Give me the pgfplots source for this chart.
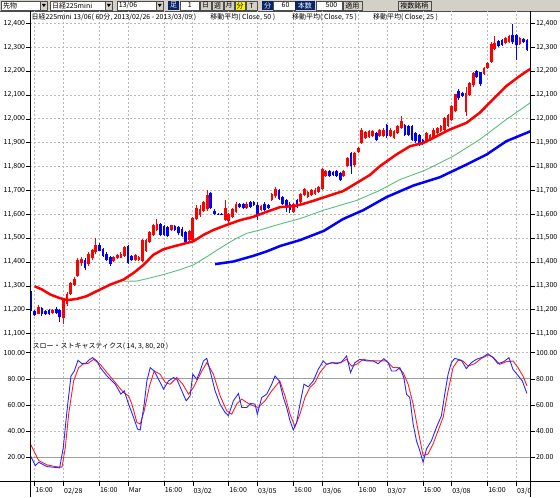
\documentclass[border=0pt]{standalone}
\usepackage{fontspec}
\setmainfont{Noto Sans CJK JP}
\usepackage{pgfplots}
\usepackage{pgfplotstable}
\pgfplotsset{compat=1.18}
\definecolor{tbgray}{RGB}{212,208,200}
\definecolor{navyb}{RGB}{10,36,106}
\definecolor{upred}{RGB}{255,0,0}
\definecolor{dnblue}{RGB}{0,0,255}
\definecolor{magreen}{RGB}{90,190,130}
\definecolor{gridgray}{RGB}{185,185,185}
\definecolor{kblue}{RGB}{40,40,255}
\definecolor{dred}{RGB}{255,30,30}
\newcommand{\lf}{\fontsize{7bp}{8bp}\selectfont}

\pgfplotstableread{
i o h l c
1 11183 11218 11180 11212
5 11186 11204 11183 11200
8 11165 11250 11140 11240
9 11225 11275 11215 11265
10 11265 11315 11260 11310
11 11305 11338 11300 11330
12 11340 11415 11335 11410
13 11395 11420 11385 11412
15 11390 11440 11385 11435
16 11415 11455 11410 11450
17 11440 11500 11435 11470
22 11405 11424 11400 11420
23 11415 11432 11412 11428
24 11418 11440 11415 11435
25 11425 11468 11420 11462
28 11410 11432 11405 11428
29 11410 11425 11405 11420
30 11405 11495 11400 11490
31 11445 11495 11440 11490
32 11485 11530 11480 11525
33 11515 11560 11510 11555
34 11535 11582 11530 11560
38 11535 11556 11530 11553
43 11492 11535 11488 11530
44 11490 11590 11478 11585
45 11580 11640 11575 11625
46 11595 11640 11590 11620
47 11612 11655 11608 11650
48 11620 11700 11615 11680
53 11575 11660 11570 11625
54 11570 11605 11565 11600
55 11590 11628 11585 11624
56 11610 11650 11605 11645
59 11625 11650 11620 11645
63 11617 11638 11612 11633
66 11660 11690 11655 11686
67 11675 11715 11670 11705
72 11610 11648 11605 11644
74 11652 11690 11645 11686
75 11680 11712 11675 11707
76 11672 11698 11668 11693
77 11680 11705 11675 11700
78 11686 11708 11682 11703
79 11693 11720 11690 11714
80 11705 11795 11700 11790
81 11760 11785 11755 11780
86 11759 11785 11755 11780
87 11801 11840 11796 11836
89 11805 11862 11800 11857
90 11860 11882 11855 11878
91 11900 11960 11895 11955
92 11920 11950 11915 11945
93 11925 11952 11920 11948
94 11930 11952 11925 11948
96 11930 11958 11925 11955
97 11928 11960 11925 11955
99 11928 11960 11924 11955
100 11920 11952 11915 11948
101 11941 11973 11937 11969
102 11962 12012 11958 11990
109 11906 11945 11900 11941
110 11913 11938 11908 11934
111 11920 11960 11915 11955
112 11941 11966 11936 11962
113 11948 11973 11944 11969
114 11955 12008 11950 12004
115 11969 12022 11964 12018
116 11997 12058 11992 12053
117 12032 12106 12028 12102
120 12030 12135 12010 12110
121 12100 12155 12095 12150
122 12140 12195 12135 12190
125 12186 12218 12182 12214
126 12214 12238 12210 12235
127 12238 12320 12232 12315
128 12292 12345 12288 12318
131 12318 12342 12314 12338
132 12320 12350 12316 12345
135 12312 12342 12308 12338
}\upcandles

\pgfplotstableread{
i o h l c
-1 11271 11280 11195 11201
0 11194 11200 11172 11178
2 11206 11210 11175 11180
3 11196 11200 11178 11183
4 11198 11202 11178 11180
6 11203 11210 11183 11186
7 11198 11205 11148 11170
14 11410 11415 11365 11375
18 11470 11478 11445 11448
19 11455 11460 11420 11425
20 11435 11440 11405 11410
21 11422 11425 11385 11392
26 11465 11470 11390 11395
27 11425 11430 11405 11410
35 11560 11565 11510 11515
36 11550 11555 11510 11515
37 11545 11550 11503 11508
39 11550 11555 11530 11535
40 11548 11552 11515 11520
41 11540 11545 11503 11508
42 11525 11530 11478 11485
49 11688 11692 11620 11625
50 11615 11620 11598 11602
51 11603 11605 11598 11600
52 11602 11605 11596 11599
57 11645 11648 11628 11631
58 11645 11648 11620 11625
60 11652 11656 11628 11631
61 11650 11655 11635 11638
62 11640 11650 11575 11598
64 11644 11650 11612 11617
65 11640 11644 11620 11625
68 11700 11705 11660 11665
69 11672 11678 11640 11645
70 11658 11662 11610 11625
71 11644 11650 11605 11617
73 11658 11662 11625 11630
82 11780 11785 11755 11760
83 11778 11782 11762 11766
84 11780 11784 11755 11759
85 11773 11778 11740 11745
88 11857 11862 11770 11801
95 11941 11945 11908 11913
98 11976 11980 11920 11927
103 11976 11980 11930 11934
104 11969 11974 11930 11934
105 11969 11975 11905 11913
106 11941 11945 11900 11906
107 11934 11938 11885 11892
108 11913 11917 11890 11899
118 12116 12125 12080 12088
119 12109 12112 12092 12095
123 12200 12205 12170 12175
124 12195 12198 12138 12145
129 12325 12330 12300 12305
130 12330 12334 12306 12310
133 12350 12398 12315 12320
134 12350 12355 12245 12310
136 12333 12337 12316 12320
137 12330 12334 12285 12290
}\downcandles

\pgfplotstableread{
i v
0 11298
2 11285
4.3 11264
6.7 11250
9 11240
11.7 11245
14.5 11257
17.3 11278
21 11305
24.7 11326
27.5 11354
30.3 11388
33 11430
35.8 11453
38.6 11465
41.4 11476
44.2 11487
46.9 11513
49.7 11534
53.4 11555
57.1 11575
60.8 11589
64.5 11610
68.3 11630
72 11634
73.9 11640
77.5 11656
82.1 11679
85.8 11697
90 11735
93.3 11765
96 11801
100.6 11850
104.4 11885
108.1 11899
111.8 11927
115.5 11955
120.1 11983
123.8 12025
127.5 12081
131.2 12137
134.9 12179
137.97 12210
}\maA

\pgfplotstableread{
i v
24.9 11319
28.4 11320
32.1 11333
35.8 11347
40.5 11368
44.2 11388
48 11423
51.6 11458
55.3 11492
59 11520
62.7 11534
67.3 11555
73.9 11582
80.4 11617
89.6 11658
96 11700
101.6 11745
107.1 11776
109 11787
116.4 11843
123.8 11913
131.2 11997
137.97 12068
}\maB

\pgfplotstableread{
i v
50.2 11391
55.3 11402
60.9 11426
64.5 11444
68.3 11467
73.9 11492
80.4 11530
85.8 11580
91.4 11617
97.9 11672
105.3 11720
112.7 11755
120.1 11808
125.7 11850
131.2 11906
137.97 11948
}\maC

\pgfplotstableread{
i v
-1.19 21.3
0.19 13.7
1.12 16.2
3.44 12.9
5.29 12.4
6.95 11.9
7.97 27.7
8.99 55.6
10.1 82.2
11.03 86
12.05 94.2
13.16 91.6
14.08 91.6
15.01 94.2
16.12 96.2
17.32 93.7
18.25 88.6
20.1 82.2
22.42 75.9
23.99 68.3
24.92 70.8
26.12 60.7
27.51 50.5
28.62 41.6
29.36 40.9
30.47 60.7
31.21 78.4
32.14 88.6
33.25 86
34.45 79.7
35.84 72.1
37.23 78.4
38.62 81
39.55 79.7
40.94 70.8
42.14 63.2
43.25 67
43.99 83.5
45.1 79.7
46.03 86
46.95 93.7
47.88 95.7
48.81 86
50.19 70.8
51.58 60.7
52.97 54.3
53.9 51.8
55.29 63.2
56.68 68.8
57.6 58.1
58.99 58.1
60.1 61.2
61.31 60.7
61.95 53
63.16 65.7
64.55 68.3
65.94 75.9
66.86 82.2
68.06 78.4
69.18 65.7
70.1 58.1
71.03 48
71.95 40.9
72.88 46.7
73.99 63.2
74.92 75.9
76.12 73.9
77.51 78.4
78.9 87.3
80.29 93.7
81.21 91.1
82.6 92.4
83.99 91.6
85.38 92.9
86.77 97.5
87.88 84.8
89.08 92.4
90.47 94.9
92.32 93.7
94.18 93.7
95.56 91.6
97.14 95.4
98.34 92.4
99.27 86
100.47 86
101.58 88.6
102.7 81
103.44 68.3
104.36 65.7
105.29 45.4
106.21 32.7
107.14 25.1
108.06 16.2
108.99 26.4
110.38 32.7
111.77 42.9
113.16 51.8
114.08 68.3
115.01 83.5
115.93 92.4
116.86 95.7
118.71 94.2
120.1 87.8
121.49 92.4
122.88 94.9
124.73 96.7
126.12 99.2
127.51 96.2
128.9 91.6
130.47 93.1
131.95 96.2
133.06 87.3
134.17 83.5
135.66 78.4
136.95 68.8
}\stochK

\pgfplotstableread{
i v
-1.19 30.2
1.12 17.5
3.44 14.2
5.76 12.9
7.6 12.4
8.53 27.7
9.45 53
10.84 78.4
12.23 88.6
13.62 91.6
14.73 91.6
16.4 94.9
18.25 91.1
20.1 84.8
22.42 77.2
24.73 69.5
26.12 67
27.05 60.7
28.44 46.7
29.36 45.4
30.47 55.6
31.95 74.6
33.25 86
34.92 83.5
36.31 77.2
37.69 75.9
39.55 81
41.21 75.9
42.79 68.3
44.18 73.4
46.03 83.5
47.88 92.4
49.73 83.5
51.58 67
53.44 55.6
54.82 53
56.21 60.7
57.6 64.5
59.45 61.2
60.84 59.4
62.23 58.1
64.08 63.2
65.94 70.8
68.2 78.4
69.64 67
71.03 53
72.42 43.4
73.8 53
75.19 65.7
76.58 73.4
77.97 77.2
79.36 84.8
81.21 91.1
83.06 92.4
84.92 92.1
86.77 94.9
88.16 89.8
89.55 91.1
91.4 94.9
93.71 93.7
96.03 93.7
97.88 93.7
99.73 88.6
101.12 88.6
102.51 84.8
103.9 75.9
105.29 60.7
106.68 40.4
108.06 21.3
109.45 22.6
110.84 30.2
112.23 40.4
113.62 50.5
115.01 70.8
116.4 88.6
117.78 94.2
119.17 93.7
120.56 89.8
122.41 91.6
124.27 95.7
126.12 98.2
127.51 96.7
129.36 91.1
131.21 93.1
133.06 93.7
134.45 88.6
135.84 82.2
136.95 74.6
}\stochD

\newcommand{\field}[3]{%
  \draw[gray!60!black, fill=white, line width=0.5] (#1,488) rectangle (#2,497);
  \node[anchor=west, inner sep=0, font=\lf] at (#1+1.5,492.5) {#3};}
\newcommand{\ddarrow}[2]{%
  \draw[gray!60!black, fill=tbgray, line width=0.5] (#1,488) rectangle (#2,497);
  \fill[black] ({(#1+#2)/2-2},494) -- ({(#1+#2)/2+2},494) -- ({(#1+#2)/2},491) -- cycle;}
\newcommand{\navybox}[3]{%
  \fill[navyb] (#1,488) rectangle (#2,497);
  \node[white, font=\lf, inner sep=0] at ({(#1+#2)/2},492.5) {#3};}
\newcommand{\btn}[4]{%
  \draw[gray!60!black, fill=#4, line width=0.5] (#1,488) rectangle (#2,497);
  \node[font=\lf, inner sep=0] at ({(#1+#2)/2},492.5) {#3};}

\pgfplotsset{
  candlebase/.style={forget plot, draw=none, mark=none},
  chartgeom/.style={scale only axis, anchor=south west, width=501bp,
    xmin=-1.19, xmax=137.97, axis line style={draw=none},
    tick align=outside, major tick length=4bp,
    y tick style={black, line width=0.6bp},
    /pgf/number format/assume math mode=true,
    tick label style={font=\lf},
    yticklabel style={inner sep=1.2bp}},
}

\begin{document}
\begin{tikzpicture}
\begin{scope}[x=1bp,y=1bp]
\path[use as bounding box] (0,0) rectangle (560,498);
\fill[white] (0,0) rectangle (560,498);
\fill[tbgray] (0,487) rectangle (560,498);
\draw[gray!60!black, line width=0.5] (0,487) -- (560,487);
\field{1}{40}{先物}\ddarrow{40}{47}
\field{50}{105}{日経225mini}\ddarrow{105}{112}
\field{117}{156}{13/06}\ddarrow{156}{163}
\navybox{168}{179}{足}
\field{180}{199}{\hspace*{6bp}1}
\btn{200}{211}{日}{tbgray}
\btn{212}{223}{週}{tbgray}
\btn{224}{234}{月}{tbgray}
\btn{235}{245}{分}{yellow}
\btn{246}{257}{T}{tbgray}
\navybox{262}{273}{分}
\field{273}{295}{\hspace*{7bp}60}
\navybox{295}{315}{本数}
\field{316}{342}{\hspace*{8bp}500}
\btn{343}{362}{適用}{tbgray}
\btn{398}{431}{複数銘柄}{tbgray}
\end{scope}

% ---------- price panel ----------
\begin{axis}[chartgeom,
  at={(30bp,158bp)}, height=329bp,
  ymin=11075.3, ymax=12451.9,
  xtick={0,8,18,26,36,44,54,62,72,80,90,98,108,116,126,134},
  xticklabels={,,,,,,,,,,,,,,,}, x tick style={draw=none},
  ytick={11100,11200,...,12400}, ytick pos=left,
  grid=major, grid style={gridgray, line width=0.7bp, dash pattern=on 2bp off 2bp},
  scaled y ticks=false,
  yticklabel style={/pgf/number format/1000 sep={,}},
]
\addplot[candlebase, error bars/.cd, y dir=plus, y explicit, error mark=none,
  error bar style={draw=upred, solid, line width=0.9bp}]
  table[x=i, y=l, y error plus expr={\thisrow{h}-\thisrow{l}}] {\upcandles};
\addplot[candlebase, error bars/.cd, y dir=plus, y explicit, error mark=none,
  error bar style={draw=upred, solid, line width=2.7bp}]
  table[x=i, y=o, y error plus expr={\thisrow{c}-\thisrow{o}}] {\upcandles};
\addplot[candlebase, error bars/.cd, y dir=plus, y explicit, error mark=none,
  error bar style={draw=dnblue, solid, line width=0.9bp}]
  table[x=i, y=l, y error plus expr={\thisrow{h}-\thisrow{l}}] {\downcandles};
\addplot[candlebase, error bars/.cd, y dir=plus, y explicit, error mark=none,
  error bar style={draw=dnblue, solid, line width=2.7bp}]
  table[x=i, y=c, y error plus expr={\thisrow{o}-\thisrow{c}}] {\downcandles};
\addplot[magreen, line width=0.9bp] table[x=i, y=v] {\maB};
\addplot[dnblue, line width=2.5bp] table[x=i, y=v] {\maC};
\addplot[upred, line width=2.5bp] table[x=i, y=v] {\maA};
\end{axis}
\begin{axis}[chartgeom,
  at={(30bp,158bp)}, height=329bp,
  ymin=11075.3, ymax=12451.9,
  xtick=\empty,
  ytick={11100,11200,...,12400}, ytick pos=right, yticklabel pos=right,
  scaled y ticks=false,
  yticklabel style={/pgf/number format/1000 sep={,}},
]
\end{axis}

% ---------- stochastic panel ----------
\begin{axis}[chartgeom,
  at={(30bp,15.3bp)}, height=142.7bp,
  ymin=1.18, ymax=110.13,
  xtick={0,8,18,26,36,44,54,62,72,80,90,98,108,116,126,134},
  xticklabels={16:00,02/28,16:00,Mar,16:00,03/02,16:00,03/05,16:00,03/06,16:00,03/07,16:00,03/08,16:00,03/0},
  xtick pos=bottom, x tick style={black, line width=0.6bp}, xtick align=outside,
  xticklabel style={anchor=north west, inner sep=0.5bp, yshift=-1bp},
  ytick={40,60,100}, ytick pos=left,
  extra y ticks={20,80},
  extra y tick style={grid=major, major grid style={solid, color=gray!75, line width=0.8bp}},
  grid=major, grid style={gridgray, line width=0.7bp, dash pattern=on 2bp off 2bp},
  yticklabel style={/pgf/number format/fixed, /pgf/number format/fixed zerofill, /pgf/number format/precision=2},
]
\addplot[dred, line width=0.9bp] table[x=i, y=v] {\stochD};
\addplot[kblue, line width=0.9bp] table[x=i, y=v] {\stochK};
\end{axis}
\begin{axis}[chartgeom,
  at={(30bp,15.3bp)}, height=142.7bp,
  ymin=1.18, ymax=110.13,
  xtick=\empty,
  ytick={20,40,60,80,100}, ytick pos=right, yticklabel pos=right,
  yticklabel style={/pgf/number format/fixed, /pgf/number format/fixed zerofill, /pgf/number format/precision=2},
]
\end{axis}

\begin{scope}[x=1bp,y=1bp]
\draw[black, line width=0.9] (30,0) -- (30,487);
\draw[black, line width=0.9] (530.7,0) -- (530.7,487);
\draw[black, line width=0.9] (0,15.3) -- (560,15.3);
\node[anchor=west, inner sep=0, font=\lf] at (31,480.5) {日経225mini 13/06( 60分, 2013/02/26 - 2013/03/09 )};
\node[anchor=west, inner sep=0, font=\lf] at (210,480.5) {移動平均( Close, 50 )};
\node[anchor=west, inner sep=0, font=\lf] at (292,480.5) {移動平均( Close, 75 )};
\node[anchor=west, inner sep=0, font=\lf] at (373,480.5) {移動平均( Close, 25 )};
\node[anchor=west, inner sep=0, font=\lf] at (32,151) {スロー・ストキャスティクス( 14, 3, 80, 20 )};
\end{scope}
\end{tikzpicture}
\end{document}
